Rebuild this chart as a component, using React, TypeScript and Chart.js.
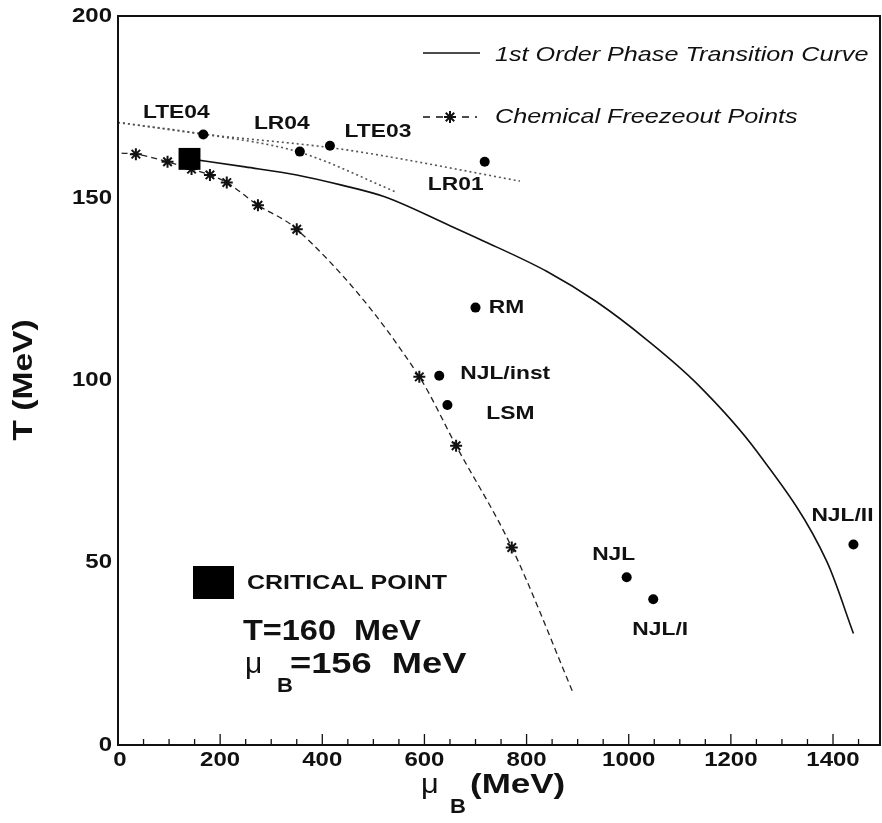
import React, { useEffect, useRef } from 'react';
import { Chart, registerables } from 'chart.js';

Chart.register(...registerables);

// ---- data (MeV) ----
const xTicks = [0, 200, 400, 600, 800, 1000, 1200, 1400];
const yTicks = [0, 50, 100, 150, 200];

const criticalMu = [140];
const criticalT = [160.8];

const transitionMu = [140, 249, 350, 438, 522, 651, 709, 840, 937, 1036, 1133, 1251, 1388, 1440];
const transitionT = [160.8, 158.6, 156.4, 153.6, 150.4, 142.4, 138.7, 129.9, 121.6, 111.1, 99.2, 80.5, 50.3, 30.6];

const freezeMu = [7, 35, 97, 144, 180, 213, 274, 350, 590, 662, 771, 892];
const freezeT = [162.4, 162.1, 160, 158, 156.4, 154.3, 148.1, 141.5, 101, 82.1, 54.2, 14];
const freezeMarked = [false, true, true, true, true, true, true, true, true, true, true, false];

const lteFitMu = [0, 167, 415, 513, 787];
const lteFitT = [170.8, 167.6, 163.9, 161.8, 154.7];

const lrFitMu = [0, 167, 356, 546];
const lrFitT = [170.8, 167.6, 162.6, 151.6];

const modelNames = ['LTE04', 'LR04', 'LTE03', 'LR01', 'RM', 'NJL/inst', 'LSM', 'NJL', 'NJL/I', 'NJL/II'];
const modelMu = [167, 356, 415, 718, 700, 629, 645, 996, 1048, 1440];
const modelT = [167.5, 162.8, 164.4, 160, 120, 101.3, 93.3, 46, 40, 55];

// label placement (pixel offsets of label centre from its point) - style only
const labelOffsets: [number, number][] = [
  [-27, -22], [-18, -28], [48, -14], [-29, 23], [31, 0],
  [66, -2], [63, 9], [-13, -23], [7, 31], [-11, -29],
];

const FAMILY = '"Liberation Sans", Arial, Helvetica, sans-serif';

function txt(
  ctx: CanvasRenderingContext2D,
  text: string,
  x: number,
  y: number,
  o: { size: number; bold?: boolean; italic?: boolean; align?: CanvasTextAlign; stretch?: number; rotate?: number; family?: string }
) {
  ctx.save();
  ctx.translate(x, y);
  if (o.rotate) ctx.rotate(o.rotate);
  ctx.scale(o.stretch ?? 1.2, 1);
  ctx.font = `${o.italic ? 'italic ' : ''}${o.bold === false ? '' : 'bold '}${o.size}px ${o.family ?? FAMILY}`;
  ctx.textAlign = o.align ?? 'left';
  ctx.textBaseline = 'middle';
  ctx.fillStyle = '#111';
  ctx.fillText(text, 0, 0);
  ctx.restore();
}

function star(ctx: CanvasRenderingContext2D, x: number, y: number, r: number) {
  ctx.save();
  ctx.setLineDash([]);
  ctx.lineWidth = 2;
  ctx.strokeStyle = '#111';
  ctx.beginPath();
  for (let i = 0; i < 4; i++) {
    const a = (i * Math.PI) / 4;
    ctx.moveTo(x - r * Math.cos(a), y - r * Math.sin(a));
    ctx.lineTo(x + r * Math.cos(a), y + r * Math.sin(a));
  }
  ctx.stroke();
  ctx.restore();
}

const decor = {
  id: 'decor',
  afterDraw(chart: any) {
    const ctx: CanvasRenderingContext2D = chart.ctx;
    const { left, top, right, bottom } = chart.chartArea;
    const xs = chart.scales.x;
    const ys = chart.scales.y;
    ctx.save();
    // frame
    ctx.strokeStyle = '#111';
    ctx.lineWidth = 2;
    ctx.strokeRect(left, top, right - left, bottom - top);
    // inward ticks on the bottom axis
    ctx.lineWidth = 1.3;
    ctx.beginPath();
    for (let v = 50; v < xs.max; v += 50) {
      const px = xs.getPixelForValue(v);
      const len = v % 200 === 0 ? 11 : 6;
      ctx.moveTo(px, bottom);
      ctx.lineTo(px, bottom - len);
    }
    ctx.stroke();
    // tick labels
    xTicks.forEach((v) => txt(ctx, String(v), xs.getPixelForValue(v) + (v === 0 ? 2 : 0), bottom + 15, { size: 20, align: 'center' }));
    yTicks.forEach((v) => txt(ctx, String(v), left - 6, ys.getPixelForValue(v), { size: 20, align: 'right' }));
    // axis titles
    txt(ctx, 'T (MeV)', 24, 380, { size: 28, align: 'center', rotate: -Math.PI / 2, stretch: 1.2 });
    txt(ctx, 'μ', 421, 785, { size: 28, bold: false, stretch: 1.1 });
    txt(ctx, 'B', 450, 807, { size: 20, stretch: 1.1 });
    txt(ctx, '(MeV)', 470, 785, { size: 28, stretch: 1.25 });

    // legend
    ctx.lineWidth = 1.5;
    ctx.beginPath();
    ctx.moveTo(423, 53);
    ctx.lineTo(480, 53);
    ctx.stroke();
    txt(ctx, '1st Order Phase Transition Curve', 495, 55, { size: 21, bold: false, italic: true, stretch: 1.2 });
    ctx.save();
    ctx.setLineDash([7, 6]);
    ctx.lineWidth = 1.3;
    ctx.beginPath();
    ctx.moveTo(423, 117);
    ctx.lineTo(477, 117);
    ctx.stroke();
    ctx.restore();
    star(ctx, 450, 117, 6);
    txt(ctx, 'Chemical Freezeout Points', 495, 117, { size: 21, bold: false, italic: true, stretch: 1.2 });

    // model labels
    modelNames.forEach((name, i) => {
      const px = xs.getPixelForValue(modelMu[i]) + labelOffsets[i][0];
      const py = ys.getPixelForValue(modelT[i]) + labelOffsets[i][1];
      txt(ctx, name, px, py, { size: 19, align: 'center', stretch: 1.2 });
    });

    // critical point box
    ctx.fillStyle = '#000';
    ctx.fillRect(193, 566, 41, 33);
    txt(ctx, 'CRITICAL POINT', 247, 583, { size: 20, stretch: 1.25 });
    txt(ctx, 'T=160  MeV', 243, 632, { size: 29, stretch: 1.12 });
    txt(ctx, 'μ', 245, 665, { size: 30, bold: false, stretch: 1.0 });
    txt(ctx, 'B', 277, 686, { size: 20, stretch: 1.1 });
    txt(ctx, '=156  MeV', 290, 665, { size: 29, stretch: 1.25 });
    ctx.restore();
  },
};

export default function App() {
  const ref = useRef<HTMLCanvasElement | null>(null);
  useEffect(() => {
    if (!ref.current) return;
    const pts = (xs: number[], ys: number[]) => xs.map((x, i) => ({ x, y: ys[i] }));
    const chart = new Chart(ref.current, {
      type: 'scatter',
      data: {
        datasets: [
          {
            label: 'Critical point',
            data: pts(criticalMu, criticalT),
            pointStyle: 'rect',
            pointRadius: 15.5,
            backgroundColor: '#000',
            borderColor: '#000',
            borderWidth: 0,
            showLine: false,
          },
          {
            label: 'Models',
            data: pts(modelMu, modelT),
            pointStyle: 'circle',
            pointRadius: 5,
            backgroundColor: '#000',
            borderColor: '#000',
            borderWidth: 0,
            showLine: false,
          },
          {
            label: '1st Order Phase Transition Curve',
            data: pts(transitionMu, transitionT),
            showLine: true,
            borderColor: '#111',
            borderWidth: 1.6,
            pointRadius: 0,
            cubicInterpolationMode: 'monotone',
          },
          {
            label: 'Chemical Freezeout Points',
            data: pts(freezeMu, freezeT),
            showLine: true,
            borderColor: '#222',
            borderWidth: 1.3,
            borderDash: [6, 4],
            pointStyle: 'star',
            pointRadius: freezeMarked.map((m) => (m ? 6 : 0)),
            pointBorderWidth: 2,
            pointBorderColor: '#111',
            cubicInterpolationMode: 'monotone',
          },
          {
            label: 'LTE fit',
            data: pts(lteFitMu, lteFitT),
            showLine: true,
            borderColor: '#555',
            borderWidth: 1.6,
            borderDash: [2, 3],
            pointRadius: 0,
            cubicInterpolationMode: 'monotone',
          },
          {
            label: 'LR fit',
            data: pts(lrFitMu, lrFitT),
            showLine: true,
            borderColor: '#555',
            borderWidth: 1.6,
            borderDash: [2, 3],
            pointRadius: 0,
            cubicInterpolationMode: 'monotone',
          },
        ],
      },
      options: {
        animation: false,
        responsive: false,
        devicePixelRatio: 1,
        events: [],
        layout: { autoPadding: false, padding: { left: 118, top: 16, right: 2, bottom: 78 } },
        scales: {
          x: { type: 'linear', min: 0, max: 1492, display: false },
          y: { type: 'linear', min: 0, max: 200, display: false },
        },
        plugins: { legend: { display: false }, tooltip: { enabled: false } },
      },
      plugins: [decor],
    } as any);
    return () => chart.destroy();
  }, []);
  return (
    <div style={{ position: 'absolute', left: 0, top: 0, width: 882, height: 823, background: '#fff' }}>
      <canvas ref={ref} width={882} height={823} style={{ width: 882, height: 823, display: 'block' }} />
    </div>
  );
}
